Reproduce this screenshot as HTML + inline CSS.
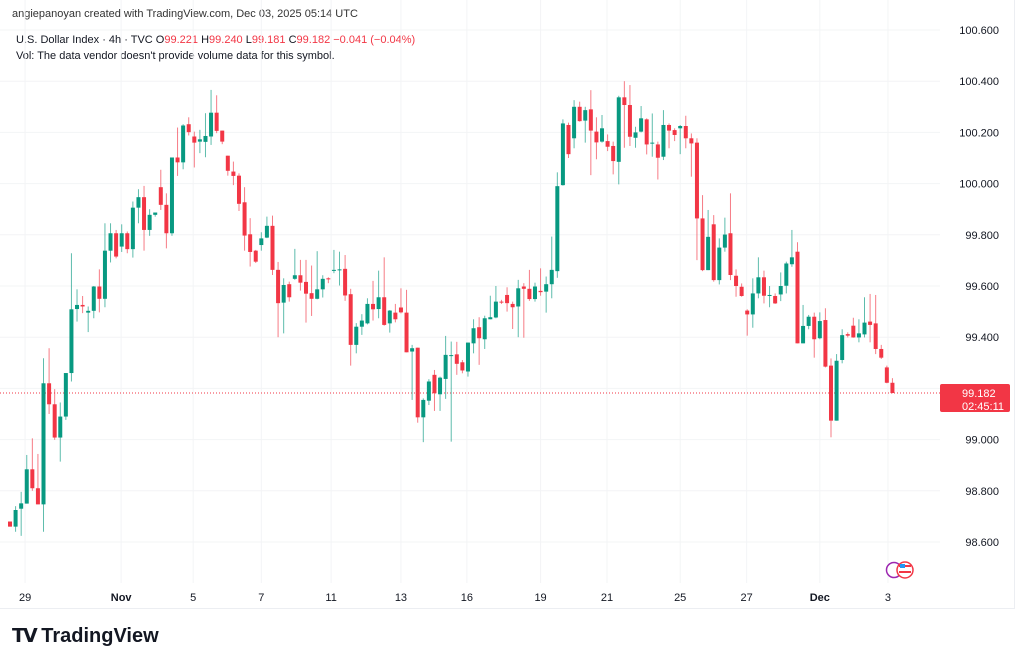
<!DOCTYPE html>
<html><head><meta charset="utf-8"><style>
body{margin:0;background:#fff;font-family:"Liberation Sans",sans-serif;}
#wrap{position:relative;width:1024px;height:665px;overflow:hidden;background:#fff}
.t{position:absolute;font-size:11px;color:#131722;white-space:nowrap}
</style></head><body>
<div id="wrap">
<div class="t" style="left:12px;top:8px;color:#333">angiepanoyan created with TradingView.com, Dec 03, 2025 05:14 UTC</div>
<div class="t" style="left:16px;top:34px">U.S. Dollar Index · 4h · TVC <span>O</span><span style="color:#F23645">99.221</span> <span>H</span><span style="color:#F23645">99.240</span> <span>L</span><span style="color:#F23645">99.181</span> <span>C</span><span style="color:#F23645">99.182 −0.041 (−0.04%)</span></div>
<div class="t" style="left:16px;top:50px">Vol: The data vendor doesn't provide volume data for this symbol.</div>
<svg id="chart" width="1024" height="665" style="position:absolute;left:0;top:0"></svg>
<div style="position:absolute;left:12px;top:625px;font-size:20px;font-weight:bold;color:#131722"><span style="font-size:19px;letter-spacing:-2px">𝗧𝗩</span> TradingView</div>
</div>
<script>
const opens=[98.68,98.66,98.73,98.75,98.884,98.81,98.747,99.22,99.138,99.008,99.09,99.26,99.51,99.526,99.496,99.503,99.598,99.55,99.738,99.806,99.754,99.806,99.744,99.906,99.947,99.819,99.878,99.986,99.917,99.806,100.102,100.083,
100.232,100.184,100.164,100.163,100.184,100.277,100.207,100.109,100.047,100.031,99.927,99.802,99.738,99.76,99.789,99.835,99.663,99.535,99.607,99.628,99.642,99.616,99.572,99.55,99.587,99.63,99.66,99.663,99.667,99.568,99.37,
99.441,99.454,99.53,99.51,99.556,99.454,99.496,99.516,99.496,99.344,99.359,99.087,99.152,99.253,99.177,99.237,99.327,99.333,99.302,99.266,99.376,99.439,99.392,99.47,99.477,99.539,99.565,99.53,99.52,99.598,99.589,99.549,99.581,99.578,99.607,
99.658,99.994,100.229,100.177,100.3,100.246,100.29,100.203,100.164,100.166,100.147,100.085,100.337,100.307,100.179,100.203,100.251,100.157,100.153,100.105,100.229,100.209,100.216,100.225,100.177,100.16,99.864,99.662,99.841,99.623,99.75,
99.806,99.64,99.597,99.504,99.489,99.571,99.634,99.561,99.561,99.567,99.601,99.685,99.734,99.376,99.444,99.48,99.396,99.467,99.289,99.074,99.311,99.412,99.445,99.399,99.411,99.461,99.454,99.354,99.282,99.222];
const highs=[98.68,98.74,98.796,98.94,99.005,98.944,99.318,99.357,99.197,99.145,99.26,99.728,99.587,99.561,99.52,99.60,99.665,99.845,99.845,99.819,99.841,99.813,99.93,99.978,99.991,99.9,99.887,100.054,99.962,100.102,100.219,100.232,
100.259,100.203,100.21,100.275,100.366,100.345,100.207,100.109,100.086,100.04,99.986,99.865,99.741,99.81,99.871,99.875,99.694,99.63,99.617,99.745,99.702,99.702,99.68,99.736,99.642,99.634,99.741,99.734,99.721,99.589,99.455,
99.49,99.552,99.62,99.66,99.712,99.506,99.53,99.591,99.585,99.37,99.359,99.161,99.236,99.272,99.246,99.405,99.383,99.382,99.311,99.379,99.47,99.478,99.484,99.562,99.6,99.546,99.595,99.539,99.624,99.611,99.663,99.613,99.669,99.637,99.793,
100.044,100.251,100.238,100.326,100.32,100.3,100.365,100.259,100.268,100.192,100.164,100.343,100.4,100.385,100.222,100.303,100.255,100.274,100.164,100.287,100.235,100.216,100.229,100.265,100.196,100.177,99.955,99.897,99.877,99.786,99.867,
99.962,99.665,99.61,99.509,99.63,99.712,99.66,99.6,99.571,99.653,99.695,99.819,99.771,99.526,99.487,99.496,99.497,99.513,99.317,99.334,99.431,99.419,99.476,99.47,99.556,99.569,99.565,99.37,99.289,99.24];
const lows=[98.66,98.64,98.624,98.75,98.80,98.747,98.64,99.10,98.999,98.914,99.077,99.227,99.461,99.494,99.42,99.474,99.497,99.517,99.692,99.708,99.733,99.728,99.711,99.845,99.738,99.796,99.871,99.897,99.747,99.796,100.03,100.056,
100.188,100.063,100.119,100.103,100.151,100.197,100.154,100.031,99.994,99.893,99.738,99.676,99.69,99.738,99.787,99.643,99.40,99.415,99.539,99.624,99.582,99.457,99.483,99.548,99.555,99.611,99.65,99.602,99.542,99.289,99.337,
99.409,99.45,99.465,99.474,99.445,99.418,99.458,99.493,99.341,99.155,99.066,98.99,99.135,99.112,99.112,99.159,98.992,99.253,99.259,99.246,99.337,99.292,99.354,99.47,99.474,99.53,99.5,99.432,99.4,99.398,99.542,99.539,99.562,99.496,99.552,
99.632,99.992,100.1,100.138,100.242,100.16,100.033,100.095,100.16,100.127,100.036,99.997,100.14,100.147,100.14,100.2,100.114,100.105,100.016,100.092,100.138,100.166,100.115,100.138,100.027,99.701,99.658,99.662,99.617,99.606,99.734,
99.623,99.558,99.558,99.406,99.437,99.552,99.532,99.517,99.53,99.541,99.571,99.675,99.376,99.376,99.431,99.32,99.392,99.282,99.009,99.074,99.298,99.399,99.398,99.38,99.399,99.38,99.334,99.315,99.22,99.181];
const closes=[98.66,98.725,98.751,98.884,98.81,98.747,99.22,99.138,99.008,99.09,99.26,99.509,99.526,99.52,99.503,99.598,99.55,99.738,99.806,99.715,99.806,99.744,99.906,99.947,99.819,99.878,99.887,99.917,99.806,100.102,100.083,100.227,
100.201,100.16,100.173,100.186,100.277,100.206,100.164,100.05,100.03,99.921,99.797,99.733,99.695,99.786,99.835,99.663,99.533,99.604,99.556,99.642,99.613,99.57,99.55,99.587,99.628,99.626,99.663,99.665,99.563,99.37,99.441,
99.465,99.53,99.509,99.556,99.448,99.504,99.47,99.497,99.341,99.357,99.087,99.155,99.227,99.181,99.242,99.331,99.33,99.296,99.27,99.379,99.435,99.396,99.474,99.478,99.539,99.536,99.533,99.517,99.591,99.589,99.549,99.598,99.576,99.607,99.663,
99.99,100.235,100.115,100.3,100.244,100.287,100.207,100.161,100.216,100.144,100.088,100.337,100.307,100.183,100.2,100.255,100.153,100.16,100.101,100.229,100.207,100.19,100.225,100.177,100.157,99.864,99.662,99.792,99.623,99.75,99.801,
99.643,99.6,99.561,99.489,99.571,99.634,99.562,99.565,99.532,99.6,99.688,99.712,99.376,99.444,99.48,99.392,99.463,99.285,99.074,99.308,99.408,99.406,99.399,99.415,99.457,99.448,99.354,99.32,99.222,99.182];
const priceTicks=[100.6,100.4,100.2,100.0,99.8,99.6,99.4,99.2,99.0,98.8,98.6];
const dateLabels=["29","Nov","5","7","11","13","16","19","21","25","27","Dec","3"];
const dateIdx=[2.7,19.9,32.8,45,57.5,70,81.8,95,106.9,120,131.9,145,157.2];
const lastPrice=99.182;

const NS="http://www.w3.org/2000/svg";
const svg=document.getElementById('chart');
const yScale=v=>30+(100.6-v)*256;
const xScale=i=>10+i*5.585;
function mk(tag,attrs,parent){const e=document.createElementNS(NS,tag);for(const k in attrs)e.setAttribute(k,attrs[k]);(parent||svg).appendChild(e);return e;}
priceTicks.forEach(p=>{const y=yScale(p);
 const g=mk('line',{x1:0,x2:940,y1:y,y2:y,stroke:'#f3f4f6','stroke-width':1});
 
 
 const t=mk('text',{x:999,y:y+4,'text-anchor':'end','font-size':11,fill:'#131722','font-family':'Liberation Sans'});
 t.textContent=p.toFixed(3);
 
 
});
dateLabels.forEach((d,k)=>{const x=xScale(dateIdx[k]);
 const g=mk('line',{x1:x,x2:x,y1:0,y2:583,stroke:'#f3f4f6','stroke-width':1});
 
 
 const bold=(d==='Nov'||d==='Dec');
 const t=mk('text',{x:x,y:601,'text-anchor':'middle','font-size':11,fill:'#131722','font-family':'Liberation Sans','font-weight':bold?'bold':'normal'});
 t.textContent=d;
 
 
});
const ly=yScale(lastPrice);
const pl=mk('line',{x1:0,x2:940,y1:ly,y2:ly,stroke:'#F23645','stroke-width':1,'stroke-dasharray':'1 2'});


for(let i=0;i<closes.length;i++){
 const up=closes[i]>=opens[i];const c=up?'#089981':'#F23645';const x=xScale(i);
 const w=mk('line',{x1:x,x2:x,y1:yScale(highs[i]),y2:yScale(lows[i]),stroke:c,'stroke-width':1,opacity:0.65});
 
 
 const t=yScale(Math.max(opens[i],closes[i]));const b=yScale(Math.min(opens[i],closes[i]));
 const r=mk('rect',{x:x-2,y:t,width:4,height:Math.max(1,b-t),fill:c});
 
 
}
const fr=mk('path',{d:'M0 608.5 H1014.5 V0',fill:'none',stroke:'#eceef2','stroke-width':1});


const bg=mk('rect',{x:940,y:ly-9,width:70,height:28,fill:'#F23645',rx:2});


const t1=mk('text',{x:962,y:ly+4,'font-size':11,fill:'#fff','font-family':'Liberation Sans'});
t1.textContent=lastPrice.toFixed(3);


const t2=mk('text',{x:962,y:ly+17,'font-size':11,fill:'#fff','font-family':'Liberation Sans'});
t2.textContent='02:45:11';


const ic=mk('circle',{cx:894,cy:570,r:7.5,fill:'#fff',stroke:'#9c27b0','stroke-width':1.5});


const ic2=mk('circle',{cx:905,cy:570,r:8,fill:'#fff',stroke:'#F23645','stroke-width':1.5});


const ic3=mk('rect',{x:899,y:565,width:12,height:2,fill:'#F23645'});


const ic4=mk('rect',{x:899,y:571,width:12,height:2,fill:'#F23645'});


const ic5=mk('rect',{x:900,y:564,width:5,height:4,fill:'#2196f3'});


</script>
</body></html>
